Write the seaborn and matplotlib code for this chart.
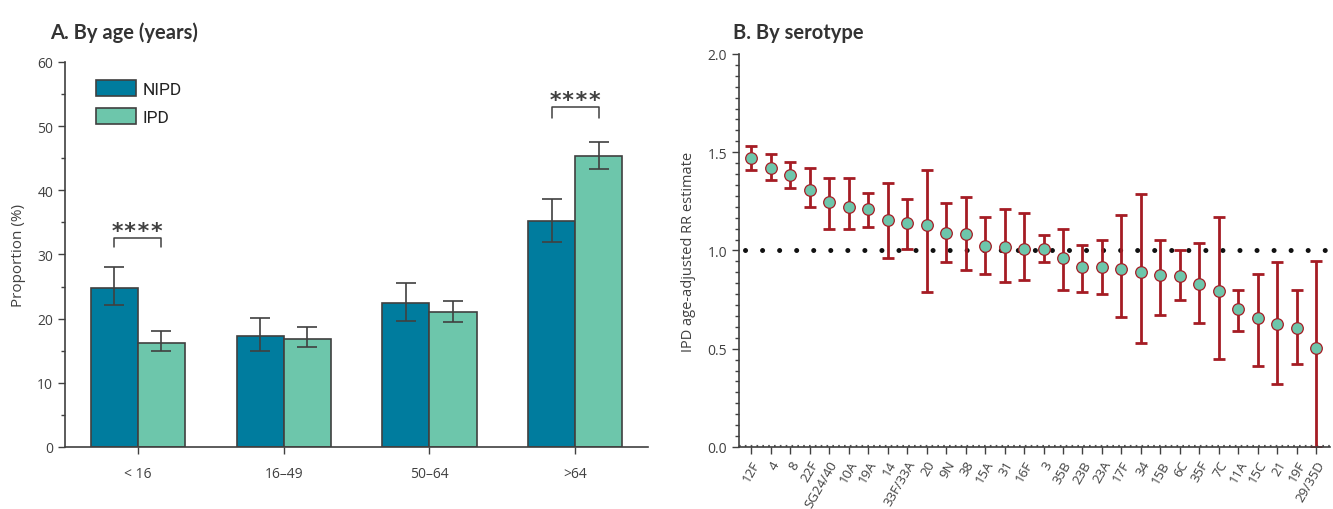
import numpy as np
import pandas as pd
import matplotlib
matplotlib.use('Agg')
import matplotlib.pyplot as plt
from matplotlib.ticker import MultipleLocator, AutoMinorLocator
import seaborn as sns

# Panel A data: proportion (%) by age group
age_groups = ['< 16', '16–49', '50–64', '>64']
nipd = [24.7, 17.3, 22.4, 35.2]
nipd_lo = [22.1, 15.0, 19.7, 32.0]
nipd_hi = [28.0, 20.1, 25.5, 38.6]
ipd = [16.2, 16.9, 21.0, 45.3]
ipd_lo = [15.0, 15.6, 19.5, 43.4]
ipd_hi = [18.0, 18.7, 22.8, 47.6]
sig_groups = ['< 16', '>64']

# Panel B data: IPD age-adjusted RR by serotype
serotypes = ['12F', '4', '8', '22F', 'SG24/40', '10A', '19A', '14', '33F/33A', '20',
             '9N', '38', '15A', '31', '16F', '3', '35B', '23B', '23A', '17F',
             '34', '15B', '6C', '35F', '7C', '11A', '15C', '21', '19F', '29/35D']
rr = [1.47, 1.42, 1.385, 1.31, 1.245, 1.22, 1.21, 1.155, 1.14, 1.13,
      1.09, 1.085, 1.025, 1.02, 1.01, 1.005, 0.96, 0.915, 0.915, 0.905,
      0.89, 0.875, 0.87, 0.83, 0.795, 0.70, 0.655, 0.625, 0.605, 0.505]
rr_lo = [1.41, 1.36, 1.32, 1.22, 1.11, 1.11, 1.12, 0.96, 1.01, 0.79,
         0.94, 0.90, 0.88, 0.84, 0.85, 0.94, 0.80, 0.79, 0.78, 0.66,
         0.53, 0.67, 0.75, 0.63, 0.45, 0.59, 0.41, 0.32, 0.42, 0.0]
rr_hi = [1.53, 1.49, 1.45, 1.42, 1.37, 1.37, 1.29, 1.345, 1.26, 1.41,
         1.24, 1.27, 1.17, 1.21, 1.19, 1.08, 1.11, 1.03, 1.055, 1.18,
         1.285, 1.055, 1.00, 1.04, 1.17, 0.80, 0.88, 0.94, 0.80, 0.945]

sns.set_style('ticks')
plt.rcParams['font.family'] = ['Open Sans', 'DejaVu Sans']

dark = '#404040'
teal = '#007c9e'
mint = '#6dc6ab'
red = '#a51c24'

fig = plt.figure(figsize=(13.33, 5.1), dpi=100)
ax1 = fig.add_axes([0.0488, 0.1216, 0.4373, 0.7549])
ax2 = fig.add_axes([0.5544, 0.1216, 0.4434, 0.7706])

# ---- Panel A ----
df = pd.DataFrame({
    'age': age_groups * 2,
    'value': nipd + ipd,
    'group': ['NIPD'] * 4 + ['IPD'] * 4,
})
sns.barplot(data=df, x='age', y='value', hue='group', palette=[teal, mint],
            errorbar=None, width=0.647, edgecolor=dark, linewidth=1.2,
            saturation=1, ax=ax1)

centers = []
for cont, vals, lo, hi in zip(ax1.containers, [nipd, ipd], [nipd_lo, ipd_lo], [nipd_hi, ipd_hi]):
    xs = [b.get_x() + b.get_width() / 2 for b in cont]
    yerr = [np.subtract(vals, lo), np.subtract(hi, vals)]
    ax1.errorbar(xs, vals, yerr=yerr, fmt='none', ecolor=dark, elinewidth=1.2,
                 capsize=7, capthick=1.2, zorder=3)
    centers.append(xs)

# significance brackets
bracket = {'< 16': (31.1, 32.5, 33.6), '>64': (51.2, 53.0, 54.1)}
for g in sig_groups:
    i = age_groups.index(g)
    x0, x1 = centers[0][i], centers[1][i]
    lo, top, st = bracket[g]
    ax1.plot([x0, x0, x1, x1], [lo, top, top, lo], color=dark, lw=1.1)
    ax1.text((x0 + x1) / 2, st, '****', ha='center', va='center', fontsize=16,
             color=dark, family='DejaVu Sans Mono', fontweight='bold')

ax1.set_xlim(-0.5, 3.5)
ax1.set_ylim(0, 60)
ax1.yaxis.set_major_locator(MultipleLocator(10))
ax1.yaxis.set_minor_locator(MultipleLocator(5))
ax1.set_xlabel('')
ax1.set_ylabel('Proportion (%)', fontsize=11, color=dark, labelpad=8)
ax1.tick_params(axis='both', colors=dark, labelsize=10, length=5, width=1)
ax1.tick_params(axis='y', which='minor', length=3, width=1, colors=dark)
ax1.tick_params(axis='x', pad=9)
sns.despine(ax=ax1)
for s in ['left', 'bottom']:
    ax1.spines[s].set_color(dark)
    ax1.spines[s].set_linewidth(1.2)
leg = ax1.legend(loc='upper left', bbox_to_anchor=(0.053, 0.952), frameon=False,
                 fontsize=12.5, handlelength=2.3, handleheight=1.0, labelspacing=0.65,
                 handletextpad=0.4, borderpad=0, borderaxespad=0, title=None)
for t in leg.get_texts():
    t.set_family(['Roboto', 'DejaVu Sans'])
    t.set_color('#222222')

# ---- Panel B ----
pos = np.arange(len(serotypes))
ax2.axhline(1.0, xmin=0.01, color='#111111', lw=3.6, ls=(0, (0.01, 3.4)),
            dash_capstyle='round', zorder=1)
ax2.axhline(0.0, color='#555555', lw=3, ls=(0, (0.4, 1.0)), zorder=1)
ax2.errorbar(pos, rr, yerr=[np.subtract(rr, rr_lo), np.subtract(rr_hi, rr)],
             fmt='none', ecolor=red, elinewidth=2, capsize=4.5, capthick=2, zorder=2)
sns.scatterplot(x=serotypes, y=rr, color=mint, edgecolor=red, linewidth=0.9,
                s=70, zorder=3, ax=ax2)

ax2.set_xlim(-0.62, 29.7)
ax2.set_ylim(0, 2.0)
ax2.yaxis.set_major_locator(MultipleLocator(0.5))
ax2.yaxis.set_minor_locator(AutoMinorLocator(9))
ax2.yaxis.set_major_formatter(matplotlib.ticker.FormatStrFormatter('%.1f'))
ax2.set_xticks(pos)
ax2.set_xticklabels(serotypes, rotation=60, ha='right', rotation_mode='anchor')
ax2.set_ylabel('IPD age-adjusted RR estimate', fontsize=10.5, color=dark, labelpad=8)
ax2.tick_params(axis='both', colors=dark, labelsize=10, length=5, width=1)
ax2.tick_params(axis='x', labelsize=9.5, pad=3)
ax2.tick_params(axis='y', which='minor', length=3, width=1, colors=dark)
sns.despine(ax=ax2)
for s in ['left', 'bottom']:
    ax2.spines[s].set_color(dark)
    ax2.spines[s].set_linewidth(1.2)

fig.text(0.0375, 0.935, 'A. By age (years)', fontsize=14.5, fontweight='bold',
         color='#333333', family=['Lato', 'DejaVu Sans'], va='center')
fig.text(0.55, 0.935, 'B. By serotype', fontsize=14.5, fontweight='bold',
         color='#333333', family=['Lato', 'DejaVu Sans'], va='center')

fig.savefig('out.png', dpi=100)
